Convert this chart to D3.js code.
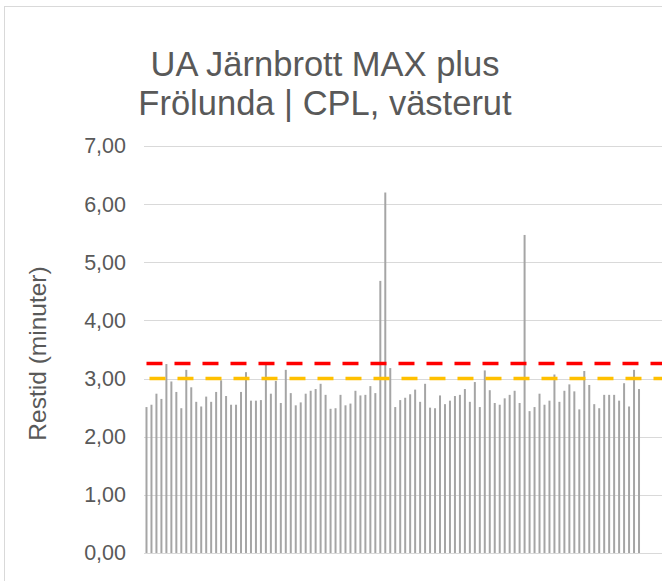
<!DOCTYPE html>
<html>
<head>
<meta charset="utf-8">
<script src="https://cdn.jsdelivr.net/npm/d3@7"></script>
<style>
  html, body { margin: 0; padding: 0; background: #fff; }
  svg { display: block; font-family: "Liberation Sans", Arial, sans-serif; }
</style>
</head>
<body>
<svg id="chart" width="662" height="581"></svg>
<script>
// Travel time per passage (minutes)
const restid = [
  2.51, 2.55, 2.74, 2.65, 3.25, 2.95, 2.77, 2.49, 3.15, 2.85,
  2.60, 2.52, 2.69, 2.60, 2.77, 2.97, 2.70, 2.55, 2.55, 2.77,
  3.11, 2.62, 2.62, 2.63, 3.24, 2.74, 2.96, 2.58, 3.15, 2.75,
  2.54, 2.59, 2.74, 2.79, 2.82, 2.91, 2.72, 2.48, 2.49, 2.72,
  2.54, 2.57, 2.79, 2.71, 2.72, 2.87, 2.75, 4.68, 6.20, 3.18,
  2.51, 2.63, 2.67, 2.73, 2.81, 2.60, 2.91, 2.50, 2.49, 2.71,
  2.56, 2.62, 2.70, 2.72, 2.82, 2.60, 2.94, 2.51, 3.14, 2.80,
  2.58, 2.55, 2.66, 2.72, 2.79, 2.58, 5.47, 2.44, 2.51, 2.74,
  2.55, 2.62, 3.07, 2.60, 2.79, 2.90, 2.78, 2.47, 3.13, 2.89,
  2.56, 2.49, 2.72, 2.72, 2.72, 2.62, 2.92, 2.52, 3.15, 2.82
];
// Reference levels (minutes)
const maxLevel = 3.26;
const targetLevel = 3.00;
const yTicks = [0, 1, 2, 3, 4, 5, 6, 7];
const titleLines = ["UA Järnbrott MAX plus", "Frölunda | CPL, västerut"];
const yTitle = "Restid (minuter)";

const fmt = v => d3.format(".2f")(v).replace(".", ",");

const svg = d3.select("#chart");
const W = 662;
const plot = { left: 144, right: 641.5, top: 146, bottom: 553 };

// chart frame
svg.append("rect")
  .attr("x", 4.5).attr("y", 6.5)
  .attr("width", 720).attr("height", 620)
  .attr("fill", "#fff").attr("stroke", "#d9d9d9").attr("stroke-width", 1);

const x = d3.scaleBand()
  .domain(d3.range(restid.length))
  .range([plot.left, plot.right])
  .paddingInner(0.6).paddingOuter(0.3);

const y = d3.scaleLinear().domain([0, 7]).range([plot.bottom, plot.top]);

// gridlines
svg.append("g").selectAll("line").data(yTicks).join("line")
  .attr("x1", plot.left).attr("x2", W + 10)
  .attr("y1", d => Math.round(y(d)) + 0.5).attr("y2", d => Math.round(y(d)) + 0.5)
  .attr("stroke", "#d9d9d9").attr("stroke-width", 1);

// y axis labels
const yAxis = d3.axisLeft(y).tickValues(yTicks).tickFormat(fmt).tickSize(0).tickPadding(0);
const gy = svg.append("g").attr("transform", "translate(126,0)").call(yAxis);
gy.select(".domain").remove();
gy.selectAll("text")
  .attr("fill", "#595959")
  .style("font-size", "21.5px")
  .style("font-family", "'Liberation Sans', Arial, sans-serif");

// bars
svg.append("g").selectAll("rect").data(restid).join("rect")
  .attr("x", (d, i) => x(i))
  .attr("width", x.bandwidth())
  .attr("y", d => y(d))
  .attr("height", d => y(0) - y(d))
  .attr("fill", "#a5a5a5");

// category axis baseline
svg.append("line")
  .attr("x1", plot.left).attr("x2", W + 10)
  .attr("y1", plot.bottom + 0.5).attr("y2", plot.bottom + 0.5)
  .attr("stroke", "#d9d9d9").attr("stroke-width", 1);

// reference lines
const lx0 = x(0) + x.bandwidth() / 2;
svg.append("line")
  .attr("x1", lx0).attr("x2", W + 10)
  .attr("y1", y(maxLevel)).attr("y2", y(maxLevel))
  .attr("stroke", "#ff0000").attr("stroke-width", 3.5)
  .attr("stroke-dasharray", "16,12");
svg.append("line")
  .attr("x1", lx0).attr("x2", W + 10)
  .attr("y1", y(targetLevel)).attr("y2", y(targetLevel))
  .attr("stroke", "#ffc000").attr("stroke-width", 3.5)
  .attr("stroke-dasharray", "16,12").attr("stroke-dashoffset", 25);

// title
svg.append("text")
  .attr("x", 325).attr("y", 76)
  .attr("text-anchor", "middle")
  .attr("fill", "#595959")
  .style("font-size", "34.5px")
  .selectAll("tspan").data(titleLines).join("tspan")
  .attr("x", 325)
  .attr("dy", (d, i) => i === 0 ? 0 : 39)
  .text(d => d);

// y axis title
svg.append("text")
  .attr("transform", `translate(46,${(plot.top + plot.bottom) / 2 + 4}) rotate(-90)`)
  .attr("text-anchor", "middle")
  .attr("fill", "#595959")
  .style("font-size", "24.5px")
  .text(yTitle);
</script>
</body>
</html>
